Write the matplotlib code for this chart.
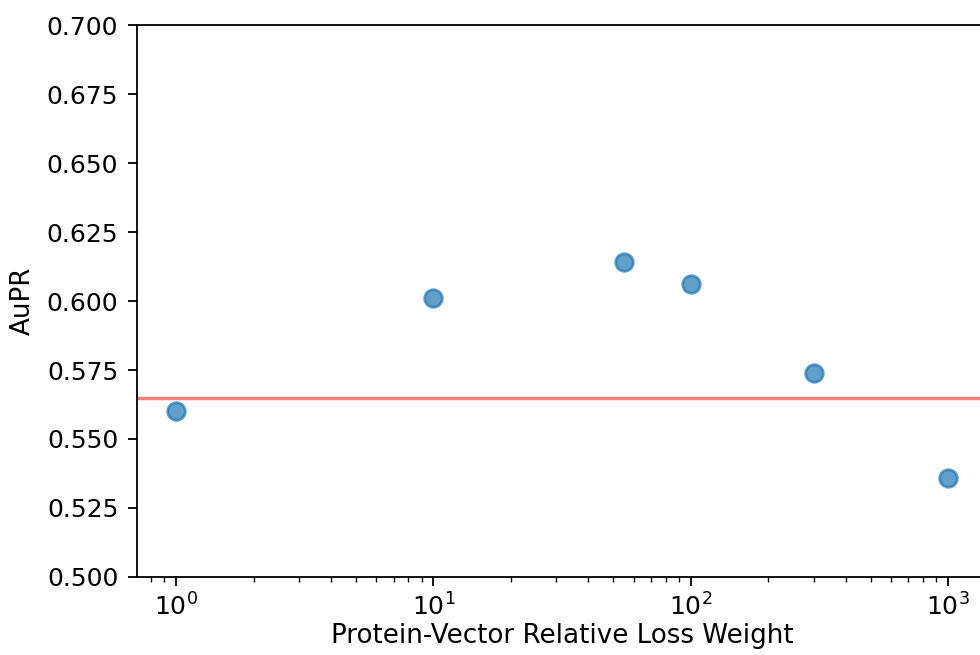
import numpy as np
import matplotlib
matplotlib.use("Agg")
import matplotlib.pyplot as plt

# relative loss weight vs AuPR
loss_weights = [1, 10, 55, 100, 300, 1000]
aupr = [0.560, 0.601, 0.614, 0.606, 0.574, 0.536]
baseline_aupr = 0.565

plt.rcParams['font.size'] = 18

fig = plt.figure(figsize=(9.8, 6.55), dpi=100)
ax = fig.add_axes([0.1398, 0.1191, 0.867, 0.8427])

ax.scatter(loss_weights, aupr, s=160, color='tab:blue', alpha=0.7, linewidths=2, zorder=3)
ax.axhline(baseline_aupr, color='red', alpha=0.5, linewidth=2.5)

ax.set_xscale('log')
ax.set_xlim(10 ** -0.152, 10 ** 3.15)
ax.set_ylim(0.5, 0.7)
ax.set_yticks(np.arange(0.5, 0.7001, 0.025))
ax.yaxis.set_major_formatter(matplotlib.ticker.FormatStrFormatter('%.3f'))
ax.tick_params(which='major', length=6.5, width=1.3)
ax.tick_params(axis='y', pad=7)
ax.tick_params(axis='x', pad=5)
ax.tick_params(which='minor', length=3.5, width=1)
for s in ax.spines.values():
    s.set_linewidth(1.3)

ax.set_xlabel("Protein-Vector Relative Loss Weight", fontsize=18.8, labelpad=2)
ax.set_ylabel("AuPR", fontsize=18.8, labelpad=8)

fig.savefig("out.png", dpi=100)
